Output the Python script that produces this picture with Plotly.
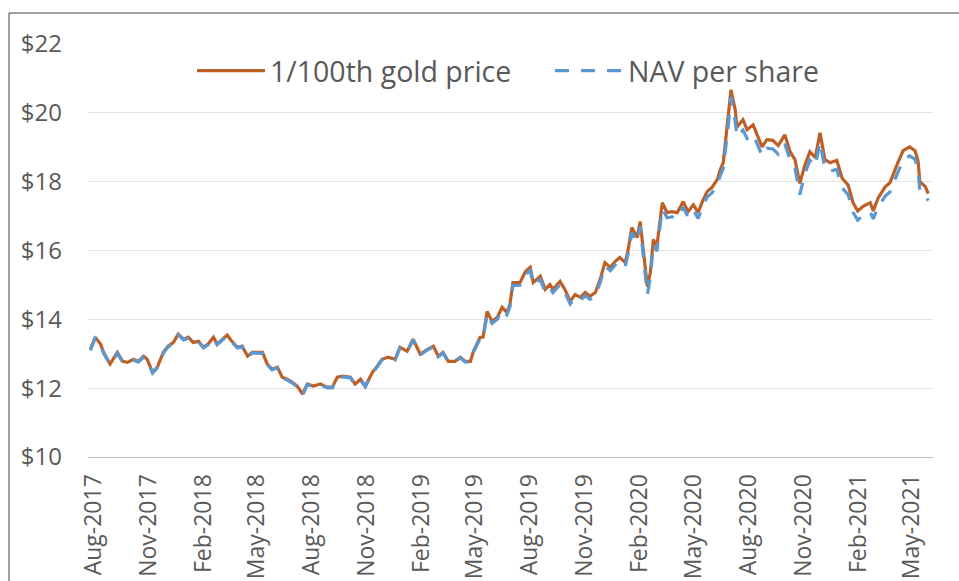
import plotly.graph_objects as go

dates = [
    "2017-07-27", "2017-08-04", "2017-08-13", "2017-08-18", "2017-08-29", "2017-09-10", "2017-09-19", "2017-09-27",
    "2017-10-07", "2017-10-15", "2017-10-24", "2017-10-30", "2017-11-08", "2017-11-16", "2017-11-26", "2017-12-04",
    "2017-12-13", "2017-12-21", "2017-12-30", "2018-01-07", "2018-01-15", "2018-01-24", "2018-02-01", "2018-02-09",
    "2018-02-18", "2018-02-24", "2018-03-05", "2018-03-13", "2018-03-21", "2018-03-30", "2018-04-07", "2018-04-16",
    "2018-04-24", "2018-05-02", "2018-05-11", "2018-05-19", "2018-05-27", "2018-06-05", "2018-06-13", "2018-06-21",
    "2018-06-30", "2018-07-08", "2018-07-17", "2018-07-25", "2018-08-04", "2018-08-16", "2018-08-27", "2018-09-05",
    "2018-09-13", "2018-09-23", "2018-10-05", "2018-10-13", "2018-10-22", "2018-10-30", "2018-11-11", "2018-11-19",
    "2018-11-27", "2018-12-07", "2018-12-19", "2018-12-27", "2019-01-08", "2019-01-18", "2019-01-30", "2019-02-11",
    "2019-02-21", "2019-03-01", "2019-03-09", "2019-03-18", "2019-03-29", "2019-04-07", "2019-04-15", "2019-04-24",
    "2019-04-29", "2019-05-10", "2019-05-15", "2019-05-22", "2019-05-30", "2019-06-08", "2019-06-16", "2019-06-24",
    "2019-06-29", "2019-07-04", "2019-07-16", "2019-07-25", "2019-08-02", "2019-08-07", "2019-08-19", "2019-08-27",
    "2019-09-04", "2019-09-09", "2019-09-21", "2019-09-29", "2019-10-08", "2019-10-16", "2019-10-25", "2019-11-02",
    "2019-11-10", "2019-11-19", "2019-11-27", "2019-12-05", "2019-12-14", "2019-12-22", "2019-12-30", "2020-01-08",
    "2020-01-13", "2020-01-19", "2020-01-28", "2020-02-02", "2020-02-07", "2020-02-14", "2020-02-19", "2020-02-24",
    "2020-03-01", "2020-03-10", "2020-03-18", "2020-03-26", "2020-04-04", "2020-04-14", "2020-04-22", "2020-05-01",
    "2020-05-09", "2020-05-16", "2020-05-24", "2020-06-01", "2020-06-10", "2020-06-15", "2020-06-20", "2020-06-23",
    "2020-06-28", "2020-07-03", "2020-07-10", "2020-07-13", "2020-07-23", "2020-07-30", "2020-08-09", "2020-08-17",
    "2020-08-24", "2020-09-01", "2020-09-11", "2020-09-20", "2020-10-01", "2020-10-10", "2020-10-18", "2020-10-26",
    "2020-11-04", "2020-11-12", "2020-11-21", "2020-11-29", "2020-12-07", "2020-12-16", "2020-12-27", "2021-01-05",
    "2021-01-15", "2021-01-23", "2021-01-31", "2021-02-09", "2021-02-21", "2021-02-26", "2021-03-06", "2021-03-18",
    "2021-03-26", "2021-04-07", "2021-04-17", "2021-04-28", "2021-05-07", "2021-05-12", "2021-05-15", "2021-05-24",
    "2021-05-29",
]

gold_price = [
    13.13, 13.48, 13.28, 13.04, 12.70, 13.04, 12.78, 12.75,
    12.84, 12.78, 12.93, 12.84, 12.46, 12.61, 13.04, 13.22,
    13.33, 13.57, 13.42, 13.48, 13.33, 13.36, 13.19, 13.28,
    13.48, 13.28, 13.42, 13.54, 13.36, 13.19, 13.22, 12.93,
    13.04, 13.04, 13.04, 12.70, 12.55, 12.61, 12.32, 12.26,
    12.17, 12.06, 11.83, 12.12, 12.06, 12.12, 12.03, 12.03,
    12.32, 12.35, 12.32, 12.12, 12.26, 12.06, 12.46, 12.64,
    12.84, 12.90, 12.84, 13.19, 13.07, 13.42, 12.99, 13.13,
    13.22, 12.93, 13.04, 12.78, 12.78, 12.90, 12.78, 12.78,
    13.07, 13.48, 13.48, 14.23, 13.94, 14.06, 14.35, 14.20,
    14.43, 15.07, 15.07, 15.39, 15.51, 15.07, 15.25, 14.87,
    15.01, 14.87, 15.10, 14.87, 14.52, 14.72, 14.64, 14.78,
    14.67, 14.78, 15.16, 15.65, 15.51, 15.68, 15.80, 15.65,
    16.03, 16.67, 16.38, 16.84, 16.03, 14.95, 15.36, 16.32,
    16.12, 17.39, 17.10, 17.13, 17.10, 17.42, 17.13, 17.33,
    17.10, 17.42, 17.71, 17.83, 18.06, 18.35, 18.55, 19.00,
    19.80, 20.67, 20.09, 19.59, 19.80, 19.51, 19.65, 19.30,
    19.01, 19.22, 19.20, 19.05, 19.36, 18.87, 18.64, 17.95,
    18.50, 18.87, 18.70, 19.42, 18.64, 18.55, 18.62, 18.10,
    17.90, 17.40, 17.15, 17.28, 17.39, 17.15, 17.52, 17.85,
    17.97, 18.50, 18.90, 19.01, 18.90, 18.60, 18.00, 17.86,
    17.65,
]

nav_per_share = [
    13.10, 13.45, 13.26, 13.02, 12.68, 13.01, 12.76, 12.73,
    12.82, 12.76, 12.90, 12.82, 12.44, 12.59, 13.01, 13.20,
    13.30, 13.55, 13.40, 13.45, 13.31, 13.34, 13.17, 13.26,
    13.46, 13.26, 13.40, 13.52, 13.34, 13.17, 13.20, 12.91,
    13.02, 13.02, 13.01, 12.68, 12.53, 12.59, 12.30, 12.24,
    12.15, 12.04, 11.80, 12.10, 12.04, 12.10, 12.01, 12.01,
    12.30, 12.33, 12.30, 12.10, 12.24, 12.04, 12.44, 12.62,
    12.82, 12.88, 12.82, 13.17, 13.05, 13.40, 12.97, 13.11,
    13.20, 12.91, 13.02, 12.76, 12.76, 12.88, 12.76, 12.75,
    13.04, 13.44, 13.43, 14.17, 13.88, 14.00, 14.28, 14.13,
    14.36, 14.98, 14.99, 15.30, 15.42, 14.99, 15.16, 14.78,
    14.92, 14.78, 15.01, 14.78, 14.44, 14.63, 14.55, 14.69,
    14.58, 14.69, 15.06, 15.55, 15.41, 15.58, 15.69, 15.54,
    15.92, 16.52, 16.25, 16.70, 15.88, 14.72, 15.20, 16.18,
    15.98, 17.22, 16.95, 16.98, 16.94, 17.26, 16.97, 17.17,
    16.93, 17.26, 17.55, 17.67, 17.90, 18.18, 18.38, 18.80,
    19.55, 20.45, 19.75, 19.30, 19.50, 19.25, 19.38, 19.05,
    18.75, 18.97, 18.95, 18.80, 19.10, 18.62, 18.40, 17.62,
    18.25, 18.62, 18.45, 19.15, 18.38, 18.30, 18.36, 17.82,
    17.62, 17.12, 16.88, 17.02, 17.12, 16.92, 17.26, 17.58,
    17.70, 18.22, 18.62, 18.75, 18.65, 18.35, 17.72, 17.60,
    17.45,
]

tick_dates = [
    "2017-08-01", "2017-11-01", "2018-02-01", "2018-05-01", "2018-08-01", "2018-11-01",
    "2019-02-01", "2019-05-01", "2019-08-01", "2019-11-01", "2020-02-01", "2020-05-01",
    "2020-08-01", "2020-11-01", "2021-02-01", "2021-05-01",
]
tick_labels = [
    "Aug-2017", "Nov-2017", "Feb-2018", "May-2018", "Aug-2018", "Nov-2018",
    "Feb-2019", "May-2019", "Aug-2019", "Nov-2019", "Feb-2020", "May-2020",
    "Aug-2020", "Nov-2020", "Feb-2021", "May-2021",
]

ORANGE = "#BF5F28"
BLUE = "#5B98D2"
TEXT = "#595959"
FONT = "Open Sans"

fig = go.Figure()
fig.add_trace(go.Scatter(
    x=dates, y=gold_price, mode="lines", name="1/100th gold price",
    line=dict(color=ORANGE, width=3.2),
))
fig.add_trace(go.Scatter(
    x=dates, y=nav_per_share, mode="lines", name="NAV per share",
    line=dict(color=BLUE, width=3.2, dash="14px,12px"),
))

L, R, T, B = 88, 26, 44, 124
W, H = 959, 581
pw = W - L - R
ph = H - T - B

fig.update_layout(
    width=W, height=H,
    margin=dict(l=L, r=R, t=T, b=B, pad=0, autoexpand=False),
    paper_bgcolor="white", plot_bgcolor="white",
    font=dict(family=FONT, color=TEXT),
    showlegend=True,
    legend=dict(
        orientation="h",
        x=(192 - L) / pw, xanchor="left",
        y=(H - B - 71) / ph, yanchor="middle",
        font=dict(size=28.5, color=TEXT, family=FONT),
        bgcolor="rgba(0,0,0,0)",
        itemwidth=68,
        entrywidth=275, entrywidthmode="pixels",
    ),
    xaxis=dict(
        type="date",
        range=["2017-07-23", "2021-06-06"],
        tickmode="array", tickvals=tick_dates, ticktext=tick_labels,
        tickangle=-90,
        tickfont=dict(size=23, color=TEXT, family=FONT),
        showgrid=False, zeroline=False,
        showline=True, linecolor="#BFBFBF", linewidth=1,
        ticks="", ticklabelstandoff=7, automargin=False,
    ),
    yaxis=dict(
        range=[10, 22], dtick=2, tick0=10,
        tickprefix="$",
        tickfont=dict(size=24, color=TEXT, family=FONT),
        showgrid=True, gridcolor="#E3E3E3", gridwidth=1,
        zeroline=False, showline=False, ticks="",
        ticklabelstandoff=25, automargin=False,
    ),
    shapes=[dict(
        type="rect", xref="paper", yref="paper",
        x0=(9 - L) / pw, x1=(W + 20 - L) / pw,
        y0=(H - B - (H + 20)) / ph, y1=(H - B - 13) / ph,
        line=dict(color="#404040", width=1), fillcolor="rgba(0,0,0,0)",
        layer="below",
    )],
)

fig.write_html(
    "out.html",
    config={"displayModeBar": False},
    post_script="document.body.style.margin='0px';document.body.style.overflow='hidden';",
)
